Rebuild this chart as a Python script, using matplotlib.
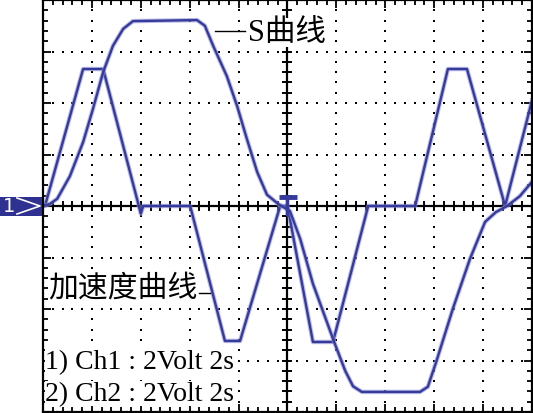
import matplotlib
matplotlib.use("Agg")
import matplotlib.pyplot as plt
import numpy as np
from matplotlib.patches import Rectangle

# trace data in screen divisions (x: -5..5, y: -4..4)
acc_x = [-5.0, -4.96, -4.18, -3.77, -3.04, -3.0, -2.95, -1.99, -1.28, -0.97,
         -0.15, 0.0, 0.52, 0.93, 1.65, 2.61, 3.28, 3.67, 4.45, 5.0]
acc_y = [0, 0, 2.66, 2.66, 0, -0.15, 0, 0, -2.62, -2.62,
         0, 0, -2.64, -2.64, 0, 0, 2.66, 2.66, 0, 2.05]

s_x = [-5.0, -4.86, -4.71, -4.45, -4.18, -3.98, -3.77, -3.57, -3.36, -3.16,
       -1.85, -1.69, -1.52, -1.24, -1.03, -0.83, -0.62, -0.42, -0.19, 0.05,
       0.26, 0.52, 0.77, 0.97, 1.18, 1.34, 1.52, 2.71, 2.87, 3.04, 3.38,
       3.73, 4.04, 4.26, 4.49, 4.75, 5.0]
s_y = [0, 0.04, 0.14, 0.58, 1.24, 1.88, 2.60, 3.11, 3.44, 3.59,
       3.61, 3.50, 3.11, 2.52, 1.94, 1.30, 0.66, 0.22, 0.04, -0.10,
       -0.64, -1.51, -2.16, -2.68, -3.20, -3.50, -3.61, -3.61, -3.51, -3.03, -2.00,
       -1.03, -0.31, -0.12, 0.0, 0.19, 0.47]

label_s = "S曲线"
label_acc = "加速度曲线"
ch_lines = ["1) Ch1 : 2Volt 2s", "2) Ch2 : 2Volt 2s"]

W, H = 533, 414
fig = plt.figure(figsize=(W / 100, H / 100), dpi=100)
ax = fig.add_axes([43 / W, 1 / H, 489 / W, 412 / H])
ax.set_xlim(-5, 5)
ax.set_ylim(-4, 4)

for sp in ax.spines.values():
    sp.set_linewidth(1.6)
    sp.set_color("black")

ax.set_xticks(np.arange(-5, 5.01, 1))
ax.set_yticks(np.arange(-4, 4.01, 1))
ax.set_xticks(np.arange(-5, 5.01, 0.2), minor=True)
ax.set_yticks(np.arange(-4, 4.01, 0.2), minor=True)
ax.tick_params(which="both", direction="in", top=True, right=True,
               labelbottom=False, labelleft=False, color="black", width=1.3)
ax.tick_params(which="major", length=6)
ax.tick_params(which="minor", length=3.5)

# dotted grid
dots_v = np.arange(-4, 4.01, 0.2)
dots_h = np.arange(-5, 5.01, 0.2)
for gx in [-4, -3, -2, -1, 1, 2, 3, 4]:
    ax.plot(np.full_like(dots_v, gx), dots_v, ls="none", marker="s", ms=2.0,
            color="black", mew=0)
for gy in [-3, -2, -1, 1, 2, 3]:
    ax.plot(dots_h, np.full_like(dots_h, gy), ls="none", marker="s", ms=2.0,
            color="black", mew=0)

# centre axes with ticks
ax.axhline(0, color="black", lw=1.6)
ax.axvline(0, color="black", lw=1.6)
ax.plot(dots_h, np.zeros_like(dots_h), ls="none", marker="|", ms=7, mew=1.4,
        color="black")
ax.plot(np.zeros_like(dots_v), dots_v, ls="none", marker="_", ms=7, mew=1.4,
        color="black")

# traces
blue = "#353a9c"
for xs, ys in [(acc_x, acc_y), (s_x, s_y)]:
    ax.plot(xs, ys, color="#8c90d4", lw=3.2, alpha=0.6, solid_joinstyle="round")
    ax.plot(xs, ys, color=blue, lw=1.7, solid_joinstyle="round")

# trigger marker at centre
ax.plot([-0.17, 0.19], [0.18, 0.18], color=blue, lw=3.5, solid_capstyle="butt")
ax.plot([0.0, 0.0], [0.18, -0.15], color=blue, lw=2.5)

# labels
cjk = ["Liberation Serif", "Noto Sans CJK SC"]
ax.plot([-1.48, -0.87], [3.40, 3.40], color="black", lw=1.0)
ax.text(-0.80, 3.36, label_s, fontsize=22, family=cjk, va="center", ha="left",
        bbox=dict(facecolor="white", edgecolor="none", pad=0))
ax.text(-4.90, -1.57, label_acc, fontsize=21.5, family=["Noto Sans CJK SC"],
        va="center", ha="left",
        bbox=dict(facecolor="white", edgecolor="none", pad=0))
ax.plot([-1.80, -1.58], [-1.68, -1.68], color="black", lw=1.0)
for i, t in enumerate(ch_lines):
    ax.text(-4.96, -3.02 - 0.62 * i, t, fontsize=20, family=cjk,
            va="center", ha="left",
            bbox=dict(facecolor="white", edgecolor="none", pad=0))

# channel marker on the left
fig.patches.append(Rectangle((0, 1 - 217 / H), 42 / W, 19 / H,
                             transform=fig.transFigure, facecolor="#2e3192",
                             edgecolor="none"))
fig.text(3 / W, 1 - 207 / H, "1", color="white", fontsize=14,
         family="DejaVu Sans", va="center", ha="left")
fig.lines.append(plt.Line2D([17 / W, 40 / W, 17 / W],
                            [1 - 199 / H, 1 - 207 / H, 1 - 215 / H],
                            transform=fig.transFigure, color="white", lw=1.2))

fig.savefig("out.png", dpi=100)
